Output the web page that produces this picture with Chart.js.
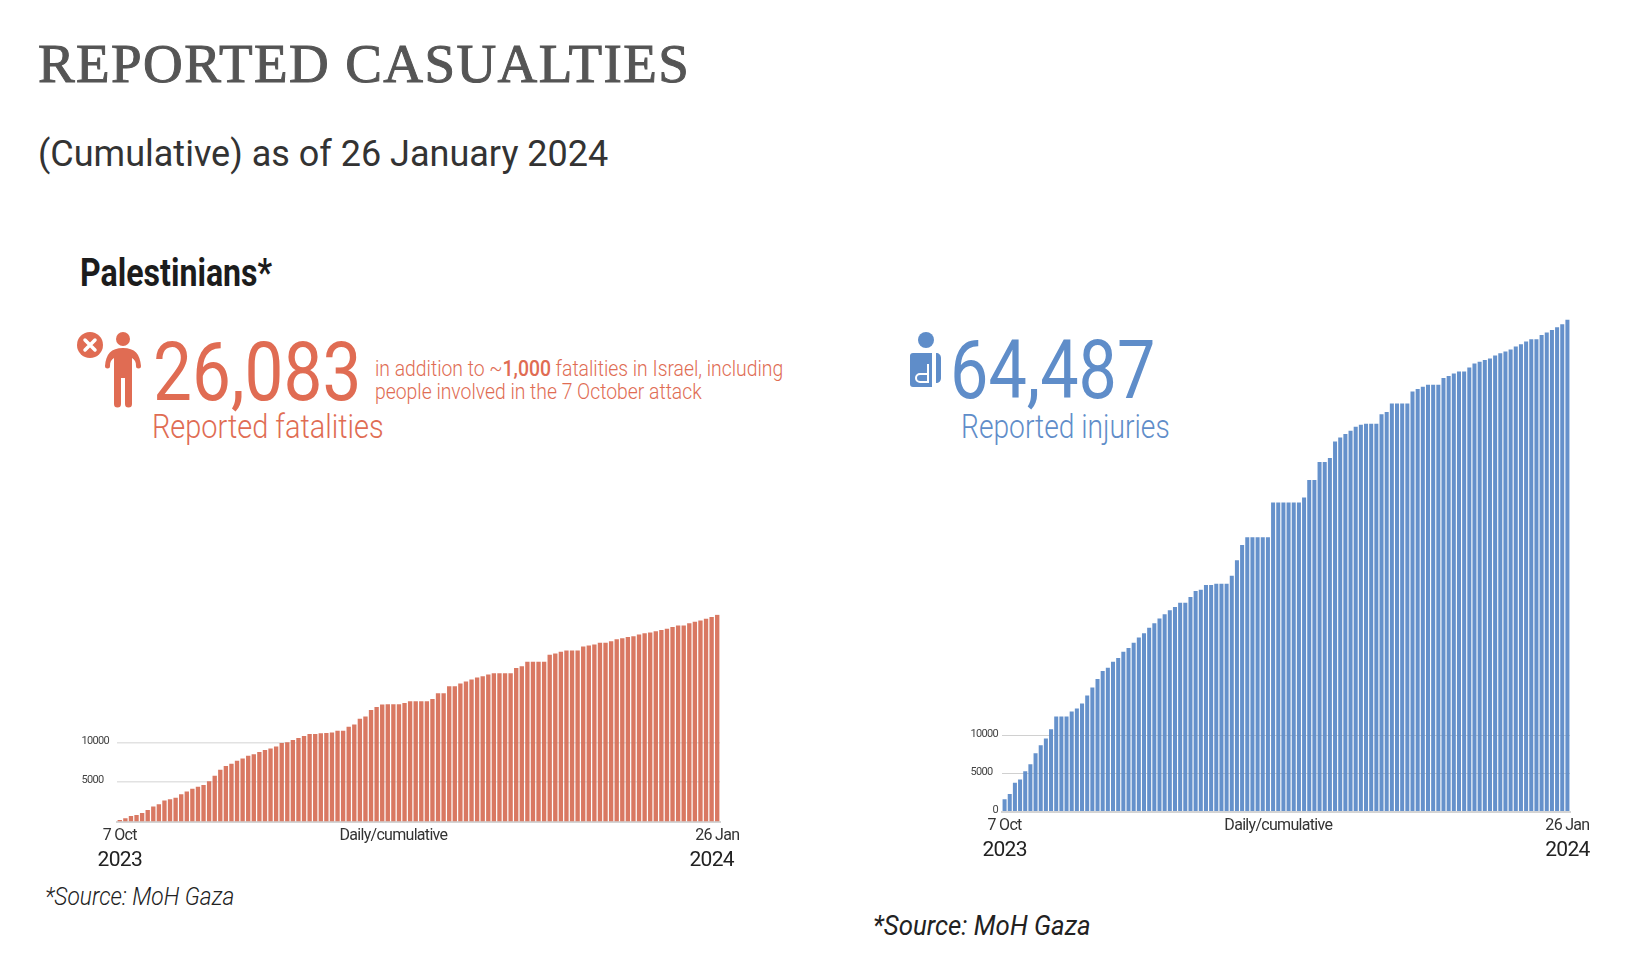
<!DOCTYPE html>
<html>
<head>
<meta charset="utf-8">
<style>
  html, body { margin: 0; padding: 0; background: #fff; }
  body { width: 1640px; height: 970px; position: relative; overflow: hidden; font-family: Roboto, sans-serif; }
  .t { position: absolute; white-space: nowrap; line-height: 1; transform-origin: left top; }
  canvas { position: absolute; }
</style>
<script src="https://cdn.jsdelivr.net/npm/chart.js@4"></script>
</head>
<body>
  <div class="t" style="left:38px;top:32px;font:400 55px 'Liberation Serif';color:#555;-webkit-text-stroke:1px #555;letter-spacing:1.4px">REPORTED CASUALTIES</div>
  <div class="t" style="left:38px;top:133px;font:400 36px Roboto;color:#333">(Cumulative) as of 26 January 2024</div>
  <div class="t" style="left:80px;top:251px;font:700 38px Roboto;color:#1c1c1c;transform:scaleX(.845)">Palestinians*</div>

  <svg style="position:absolute;left:76px;top:330px" width="70" height="80" viewBox="0 0 70 80">
    <circle cx="14" cy="15" r="13" fill="#e06c53"/>
    <path d="M9 10 L19 20 M19 10 L9 20" stroke="#fff" stroke-width="3.5" stroke-linecap="round"/>
    <circle cx="47" cy="9" r="7" fill="#e06c53"/>
    <path d="M29 36 C30 24 35 18 47 18 C59 18 64 24 65 36 A2 2 0 0 1 60 36 C60 32 59 30 56 28 L56 74 A3 3 0 0 1 49 74 L49 48 L45 48 L45 74 A3 3 0 0 1 38 74 L38 28 C35 30 34 32 34 36 A2 2 0 0 1 29 36 Z" fill="#e06c53"/>
  </svg>
  <div class="t" style="left:153px;top:324px;font:400 82px Roboto;color:#e06c53;transform:scaleX(.845)">26,083</div>
  <div class="t" style="left:152px;top:407px;font:300 33px Roboto;color:#e06c53;transform:scaleX(.876)">Reported fatalities</div>
  <div class="t" style="left:375px;top:356px;font:300 21.5px Roboto;color:#e06c53;transform:scaleX(.9)">in addition to ~<b style="font-weight:500">1,000</b> fatalities in Israel, including</div>
  <div class="t" style="left:375px;top:379px;font:300 21.5px Roboto;color:#e06c53;transform:scaleX(.9)">people involved in the 7 October attack</div>

  <svg style="position:absolute;left:908px;top:330px" width="40" height="62" viewBox="0 0 40 62">
    <circle cx="18" cy="10" r="8" fill="#5f8dc9"/>
    <path d="M5 23 L24 23 L24 57 L5 57 A3 3 0 0 1 2 54 L2 26 A3 3 0 0 1 5 23 Z M28 23 C31 23 33 25 33 28 L33 48 C33 51 31 53 28 53 Z" fill="#5f8dc9"/>
    <path d="M20 34 L20 52 L12 52 A4 4 0 0 1 12 44 L20 44" fill="none" stroke="#fff" stroke-width="2"/>
  </svg>
  <div class="t" style="left:950px;top:322px;font:400 82px Roboto;color:#5f8dc9;transform:scaleX(.833)">64,487</div>
  <div class="t" style="left:961px;top:407px;font:300 33px Roboto;color:#5f8dc9;transform:scaleX(.854)">Reported injuries</div>

  <div class="t" style="left:45px;top:882px;font:italic 300 25px Roboto;color:#222;transform:scaleX(.91)">*Source: MoH Gaza</div>
  <div class="t" style="left:873px;top:910px;font:italic 400 27px Roboto;color:#222;transform:scaleX(.955)">*Source: MoH Gaza</div>

  <canvas id="fatalChart" style="left:40px;top:600px" width="720" height="271"></canvas>
  <canvas id="injuryChart" style="left:930px;top:300px" width="690" height="561"></canvas>

<script>
// values
const fatalities = [200,420,700,830,1080,1450,1900,2200,2670,2830,3000,3460,3790,4130,4380,4630,5090,5790,6540,7000,7300,7670,7960,8290,8500,8790,9040,9210,9460,9920,10000,10290,10540,10790,11040,11040,11130,11170,11250,11460,11460,11960,12250,12960,13250,14080,14460,14750,14790,14790,14790,
  14960,15170,15170,15170,15170,15460,16170,16170,17080,17080,17420,17670,17920,18170,18330,18540,18710,18710,18710,18710,19380,19580,20170,20170,20170,20170,21040,21210,21420,21580,21580,21580,22080,22210,22330,22540,22540,22750,23000,23130,23290,23380,23580,23750,23830,24000,24170,24330,24540,24710,24710,25000,25210,25370,25580,25790,26083];
const injuries = [1610,2300,3780,4220,5300,6220,7650,8700,9570,10780,12480,12480,12480,13130,13520,14170,15220,16260,17390,18430,18870,19650,20130,20960,21430,22130,22830,23390,24090,24700,25300,25870,26390,26830,27390,27390,28130,28910,29090,29700,29700,29870,29870,29870,
  30900,32950,34950,35950,35950,35950,35950,35950,40520,40520,40520,40520,40520,40520,41170,43480,43480,45830,45830,46350,48520,49040,49480,49910,50440,50700,50830,50830,50830,52090,52390,53480,53480,53480,53480,55050,55390,55700,55960,55960,55960,56830,57090,57440,57700,57700,58220,58740,58960,59180,59390,59780,60090,60310,60570,60960,61260,61610,61920,61920,62480,62790,63130,63480,63870,64487];
const fatalYTicks = [5000, 10000];
const injuryYTicks = [0, 5000, 10000];
const fatalXTicks = { 0: '7 Oct', 49: 'Daily/cumulative', 107: '26 Jan' };
const injuryXTicks = { 0: '7 Oct', 53: 'Daily/cumulative', 109: '26 Jan' };
const fatalYears = { 0: '2023', 106: '2024' };
const injuryYears = { 0: '2023', 109: '2024' };

// no Roboto Condensed here, so tighten the axis text instead
const tightText = {
  id: 'tightText',
  beforeDraw(chart) { chart.ctx.letterSpacing = '-0.7px'; }
};

function makeChart(id, values, barColor, gridColor, yTicks, xTicks, years, yMax, pad) {
  const labels = values.map((v, i) => String(i));
  new Chart(document.getElementById(id), {
    type: 'bar',
    plugins: [tightText],
    data: {
      labels: labels,
      datasets: [{ data: values, backgroundColor: barColor, barPercentage: 0.78, categoryPercentage: 1 }]
    },
    options: {
      responsive: false,
      animation: false,
      layout: { padding: pad },
      plugins: { legend: { display: false }, tooltip: { enabled: false } },
      scales: {
        x: {
          grid: { display: false, drawTicks: false },
          border: { color: '#d4d4d4', width: 2 },
          ticks: {
            autoSkip: false, maxRotation: 0, padding: 7,
            color: '#333', font: { family: 'Roboto', size: 16, lineHeight: 0.9 },
            callback: (v, i) => xTicks[i] || ''
          }
        },
        x2: {
          position: 'bottom',
          grid: { display: false, drawTicks: false },
          border: { display: false },
          ticks: {
            autoSkip: false, maxRotation: 0, padding: 0,
            color: '#222', font: { family: 'Roboto', size: 21, lineHeight: 1 },
            callback: (v, i) => years[i] || ''
          },
          labels: labels
        },
        y: {
          min: 0, max: yMax,
          afterBuildTicks: s => { s.ticks = yTicks.map(v => ({ value: v })); },
          afterFit: s => { s.width = pad.yw; },
          grid: { color: gridColor, drawTicks: false, lineWidth: pad.gw },
          border: { display: false },
          ticks: {
            color: '#444', padding: pad.yp, labelOffset: -1.5, font: { family: 'Roboto', size: 11 },
            // the 5000 label sits flush left with 10000 in the original
            callback: v => v === 5000 ? '5000\u2007' : String(v)
          }
        }
      }
    }
  });
}

makeChart('fatalChart', fatalities, 'rgba(214,110,86,0.93)', '#e2e2e2', fatalYTicks, fatalXTicks, fatalYears, 26100, { left: 0, right: 40, top: 10, bottom: 0, yw: 77, yp: 8, gw: 1.5 });
makeChart('injuryChart', injuries, 'rgba(91,138,200,0.94)', '#d0d0d0', injuryYTicks, injuryXTicks, injuryYears, 65670, { left: 0, right: 50, top: 10, bottom: 0, yw: 72, yp: 4, gw: 1 });
</script>
</body>
</html>
